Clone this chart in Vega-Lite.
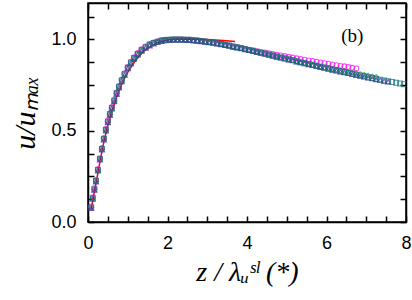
{
  "$schema": "https://vega.github.io/schema/vega-lite/v6.json",
  "width": 318,
  "height": 219,
  "autosize": {"type": "none"},
  "padding": {"left": 88, "top": 3, "right": 6, "bottom": 78},
  "config": {
    "view": {"stroke": "black", "strokeWidth": 1.5},
    "axis": {
      "domainColor": "black", "domainWidth": 1.5, "tickColor": "black", "tickWidth": 1.5,
      "grid": false, "labelFont": "Liberation Sans", "labelFontSize": 18, "labelColor": "black",
      "titleFont": "Liberation Serif", "titleFontStyle": "italic", "titleFontWeight": "normal", "titleFontSize": 28, "titleColor": "black"
    }
  },
  "data": {"values": [
    {"s":"r","x":0.08,"y":0.07},{"s":"r","x":0.2,"y":0.21},{"s":"r","x":0.3,"y":0.33},{"s":"r","x":0.4,"y":0.44},{"s":"r","x":0.5,"y":0.53},{"s":"r","x":0.6,"y":0.605},{"s":"r","x":0.7,"y":0.672},{"s":"r","x":0.8,"y":0.73},{"s":"r","x":0.9,"y":0.78},{"s":"r","x":1.0,"y":0.82},{"s":"r","x":1.2,"y":0.887},{"s":"r","x":1.4,"y":0.935},{"s":"r","x":1.6,"y":0.966},{"s":"r","x":1.8,"y":0.987},{"s":"r","x":2.0,"y":0.997},{"s":"r","x":2.2,"y":1.002},{"s":"r","x":2.5,"y":1.003},{"s":"r","x":2.8,"y":1.001},{"s":"r","x":3.1,"y":0.998},{"s":"r","x":3.4,"y":0.994},{"s":"r","x":3.7,"y":0.989},

    {"s":"m","x":0.08,"y":0.085},{"s":"m","x":0.12,"y":0.135},{"s":"m","x":0.16,"y":0.185},{"s":"m","x":0.2,"y":0.23},{"s":"m","x":0.25,"y":0.29},{"s":"m","x":0.3,"y":0.35},{"s":"m","x":0.35,"y":0.405},{"s":"m","x":0.4,"y":0.46},{"s":"m","x":0.45,"y":0.51},{"s":"m","x":0.5,"y":0.555},{"s":"m","x":0.55,"y":0.595},{"s":"m","x":0.6,"y":0.63},{"s":"m","x":0.66,"y":0.67},{"s":"m","x":0.72,"y":0.71},{"s":"m","x":0.78,"y":0.745},{"s":"m","x":0.85,"y":0.78},{"s":"m","x":0.92,"y":0.815},{"s":"m","x":1.0,"y":0.85},{"s":"m","x":1.08,"y":0.878},{"s":"m","x":1.16,"y":0.903},{"s":"m","x":1.25,"y":0.926},{"s":"m","x":1.35,"y":0.947},{"s":"m","x":1.45,"y":0.962},{"s":"m","x":1.55,"y":0.975},{"s":"m","x":1.65,"y":0.984},{"s":"m","x":1.75,"y":0.991},{"s":"m","x":1.85,"y":0.996},{"s":"m","x":1.95,"y":0.999},{"s":"m","x":2.05,"y":0.999},{"s":"m","x":2.15,"y":1.0},{"s":"m","x":2.25,"y":1.0},{"s":"m","x":2.35,"y":1.0},{"s":"m","x":2.45,"y":0.999},{"s":"m","x":2.55,"y":0.998},{"s":"m","x":2.65,"y":0.996},{"s":"m","x":2.75,"y":0.994},
    {"s":"m","x":2.85,"y":0.992},{"s":"m","x":2.95,"y":0.989},{"s":"m","x":3.05,"y":0.986},{"s":"m","x":3.15,"y":0.983},{"s":"m","x":3.25,"y":0.979},{"s":"m","x":3.35,"y":0.975},{"s":"m","x":3.45,"y":0.971},{"s":"m","x":3.55,"y":0.967},{"s":"m","x":3.65,"y":0.962},{"s":"m","x":3.75,"y":0.958},{"s":"m","x":3.85,"y":0.953},{"s":"m","x":3.95,"y":0.948},{"s":"m","x":4.05,"y":0.944},{"s":"m","x":4.15,"y":0.94},{"s":"m","x":4.25,"y":0.936},{"s":"m","x":4.35,"y":0.932},{"s":"m","x":4.45,"y":0.929},{"s":"m","x":4.55,"y":0.925},{"s":"m","x":4.65,"y":0.92},{"s":"m","x":4.75,"y":0.916},{"s":"m","x":4.85,"y":0.913},{"s":"m","x":4.95,"y":0.909},{"s":"m","x":5.05,"y":0.905},{"s":"m","x":5.15,"y":0.901},{"s":"m","x":5.25,"y":0.897},{"s":"m","x":5.35,"y":0.893},{"s":"m","x":5.45,"y":0.889},{"s":"m","x":5.55,"y":0.885},{"s":"m","x":5.65,"y":0.882},{"s":"m","x":5.75,"y":0.878},{"s":"m","x":5.85,"y":0.874},{"s":"m","x":5.95,"y":0.87},{"s":"m","x":6.05,"y":0.867},{"s":"m","x":6.15,"y":0.863},{"s":"m","x":6.25,"y":0.859},{"s":"m","x":6.35,"y":0.855},{"s":"m","x":6.45,"y":0.853},{"s":"m","x":6.55,"y":0.849},{"s":"m","x":6.65,"y":0.845},{"s":"m","x":6.75,"y":0.841},

    {"s":"g","x":0.08,"y":0.08},{"s":"g","x":0.12,"y":0.13},{"s":"g","x":0.16,"y":0.18},{"s":"g","x":0.2,"y":0.225},{"s":"g","x":0.25,"y":0.285},{"s":"g","x":0.3,"y":0.345},{"s":"g","x":0.35,"y":0.4},{"s":"g","x":0.4,"y":0.455},{"s":"g","x":0.45,"y":0.505},{"s":"g","x":0.5,"y":0.55},{"s":"g","x":0.55,"y":0.59},{"s":"g","x":0.6,"y":0.625},{"s":"g","x":0.66,"y":0.665},{"s":"g","x":0.72,"y":0.705},{"s":"g","x":0.78,"y":0.74},{"s":"g","x":0.85,"y":0.775},{"s":"g","x":0.92,"y":0.81},{"s":"g","x":1.0,"y":0.845},{"s":"g","x":1.08,"y":0.873},{"s":"g","x":1.16,"y":0.898},{"s":"g","x":1.25,"y":0.921},{"s":"g","x":1.35,"y":0.942},{"s":"g","x":1.45,"y":0.958},{"s":"g","x":1.55,"y":0.971},{"s":"g","x":1.65,"y":0.981},{"s":"g","x":1.75,"y":0.988},{"s":"g","x":1.85,"y":0.994},{"s":"g","x":1.95,"y":0.997},{"s":"g","x":2.05,"y":0.999},{"s":"g","x":2.15,"y":1.0},{"s":"g","x":2.25,"y":1.0},{"s":"g","x":2.35,"y":1.0},{"s":"g","x":2.45,"y":0.999},{"s":"g","x":2.55,"y":0.998},{"s":"g","x":2.65,"y":0.996},{"s":"g","x":2.75,"y":0.994},
    {"s":"g","x":2.85,"y":0.992},{"s":"g","x":2.95,"y":0.989},{"s":"g","x":3.05,"y":0.986},{"s":"g","x":3.15,"y":0.983},{"s":"g","x":3.25,"y":0.979},{"s":"g","x":3.35,"y":0.975},{"s":"g","x":3.45,"y":0.971},{"s":"g","x":3.55,"y":0.967},{"s":"g","x":3.65,"y":0.962},{"s":"g","x":3.75,"y":0.958},{"s":"g","x":3.85,"y":0.953},{"s":"g","x":3.95,"y":0.948},{"s":"g","x":4.05,"y":0.943},{"s":"g","x":4.15,"y":0.938},{"s":"g","x":4.25,"y":0.933},{"s":"g","x":4.35,"y":0.928},{"s":"g","x":4.45,"y":0.923},{"s":"g","x":4.55,"y":0.918},{"s":"g","x":4.65,"y":0.912},{"s":"g","x":4.75,"y":0.907},{"s":"g","x":4.85,"y":0.902},{"s":"g","x":4.95,"y":0.897},{"s":"g","x":5.05,"y":0.892},{"s":"g","x":5.15,"y":0.887},{"s":"g","x":5.25,"y":0.881},{"s":"g","x":5.35,"y":0.876},{"s":"g","x":5.45,"y":0.871},{"s":"g","x":5.55,"y":0.866},{"s":"g","x":5.65,"y":0.861},{"s":"g","x":5.75,"y":0.856},{"s":"g","x":5.85,"y":0.851},{"s":"g","x":5.95,"y":0.846},{"s":"g","x":6.05,"y":0.844},{"s":"g","x":6.15,"y":0.839},{"s":"g","x":6.25,"y":0.835},{"s":"g","x":6.35,"y":0.83},{"s":"g","x":6.45,"y":0.827},{"s":"g","x":6.55,"y":0.822},{"s":"g","x":6.65,"y":0.818},{"s":"g","x":6.75,"y":0.814},{"s":"g","x":6.85,"y":0.81},{"s":"g","x":6.95,"y":0.806},{"s":"g","x":7.05,"y":0.802},{"s":"g","x":7.15,"y":0.798},{"s":"g","x":7.25,"y":0.794},

    {"s":"p","x":0.08,"y":0.075},{"s":"p","x":0.12,"y":0.125},{"s":"p","x":0.16,"y":0.175},{"s":"p","x":0.2,"y":0.22},{"s":"p","x":0.25,"y":0.28},{"s":"p","x":0.3,"y":0.34},{"s":"p","x":0.35,"y":0.395},{"s":"p","x":0.4,"y":0.45},{"s":"p","x":0.45,"y":0.5},{"s":"p","x":0.5,"y":0.545},{"s":"p","x":0.55,"y":0.585},{"s":"p","x":0.6,"y":0.62},{"s":"p","x":0.66,"y":0.66},{"s":"p","x":0.72,"y":0.7},{"s":"p","x":0.78,"y":0.735},{"s":"p","x":0.85,"y":0.77},{"s":"p","x":0.92,"y":0.805},{"s":"p","x":1.0,"y":0.84},{"s":"p","x":1.08,"y":0.868},{"s":"p","x":1.16,"y":0.893},{"s":"p","x":1.25,"y":0.916},{"s":"p","x":1.35,"y":0.937},{"s":"p","x":1.45,"y":0.953},{"s":"p","x":1.55,"y":0.966},{"s":"p","x":1.65,"y":0.976},{"s":"p","x":1.75,"y":0.984},{"s":"p","x":1.85,"y":0.99},{"s":"p","x":1.95,"y":0.994},{"s":"p","x":2.05,"y":0.997},{"s":"p","x":2.15,"y":0.998},{"s":"p","x":2.25,"y":0.998},{"s":"p","x":2.35,"y":0.998},{"s":"p","x":2.45,"y":0.997},{"s":"p","x":2.55,"y":0.996},{"s":"p","x":2.65,"y":0.994},{"s":"p","x":2.75,"y":0.992},
    {"s":"p","x":2.85,"y":0.989},{"s":"p","x":2.95,"y":0.986},{"s":"p","x":3.05,"y":0.983},{"s":"p","x":3.15,"y":0.98},{"s":"p","x":3.25,"y":0.976},{"s":"p","x":3.35,"y":0.972},{"s":"p","x":3.45,"y":0.968},{"s":"p","x":3.55,"y":0.964},{"s":"p","x":3.65,"y":0.959},{"s":"p","x":3.75,"y":0.955},{"s":"p","x":3.85,"y":0.95},{"s":"p","x":3.95,"y":0.945},{"s":"p","x":4.05,"y":0.94},{"s":"p","x":4.15,"y":0.935},{"s":"p","x":4.25,"y":0.93},{"s":"p","x":4.35,"y":0.925},{"s":"p","x":4.45,"y":0.92},{"s":"p","x":4.55,"y":0.915},{"s":"p","x":4.65,"y":0.909},{"s":"p","x":4.75,"y":0.904},{"s":"p","x":4.85,"y":0.899},{"s":"p","x":4.95,"y":0.894},{"s":"p","x":5.05,"y":0.889},{"s":"p","x":5.15,"y":0.884},{"s":"p","x":5.25,"y":0.878},{"s":"p","x":5.35,"y":0.873},{"s":"p","x":5.45,"y":0.868},{"s":"p","x":5.55,"y":0.863},{"s":"p","x":5.65,"y":0.858},{"s":"p","x":5.75,"y":0.853},{"s":"p","x":5.85,"y":0.848},{"s":"p","x":5.95,"y":0.843},{"s":"p","x":6.05,"y":0.838},{"s":"p","x":6.15,"y":0.833},{"s":"p","x":6.25,"y":0.828},{"s":"p","x":6.35,"y":0.823},{"s":"p","x":6.45,"y":0.819},{"s":"p","x":6.55,"y":0.814},{"s":"p","x":6.65,"y":0.809},{"s":"p","x":6.75,"y":0.804},{"s":"p","x":6.85,"y":0.8},{"s":"p","x":6.95,"y":0.795},{"s":"p","x":7.05,"y":0.79},{"s":"p","x":7.15,"y":0.786},{"s":"p","x":7.25,"y":0.781},{"s":"p","x":7.35,"y":0.777},{"s":"p","x":7.45,"y":0.772},{"s":"p","x":7.55,"y":0.768},

    {"s":"t","x":0.08,"y":0.08},{"s":"t","x":0.12,"y":0.13},{"s":"t","x":0.16,"y":0.18},{"s":"t","x":0.2,"y":0.225},{"s":"t","x":0.25,"y":0.285},{"s":"t","x":0.3,"y":0.345},{"s":"t","x":0.35,"y":0.4},{"s":"t","x":0.4,"y":0.455},{"s":"t","x":0.45,"y":0.505},{"s":"t","x":0.5,"y":0.55},{"s":"t","x":0.55,"y":0.59},{"s":"t","x":0.6,"y":0.625},{"s":"t","x":0.66,"y":0.665},{"s":"t","x":0.72,"y":0.705},{"s":"t","x":0.78,"y":0.74},{"s":"t","x":0.85,"y":0.775},{"s":"t","x":0.92,"y":0.81},{"s":"t","x":1.0,"y":0.845},{"s":"t","x":1.08,"y":0.873},{"s":"t","x":1.16,"y":0.898},{"s":"t","x":1.25,"y":0.921},{"s":"t","x":1.35,"y":0.942},{"s":"t","x":1.45,"y":0.958},{"s":"t","x":1.55,"y":0.971},{"s":"t","x":1.65,"y":0.981},{"s":"t","x":1.75,"y":0.988},{"s":"t","x":1.85,"y":0.994},{"s":"t","x":1.95,"y":0.997},{"s":"t","x":2.05,"y":0.999},{"s":"t","x":2.15,"y":1.0},{"s":"t","x":2.25,"y":1.0},{"s":"t","x":2.35,"y":1.0},{"s":"t","x":2.45,"y":0.999},{"s":"t","x":2.55,"y":0.998},{"s":"t","x":2.65,"y":0.996},{"s":"t","x":2.75,"y":0.994},
    {"s":"t","x":2.85,"y":0.992},{"s":"t","x":2.95,"y":0.989},{"s":"t","x":3.05,"y":0.986},{"s":"t","x":3.15,"y":0.983},{"s":"t","x":3.25,"y":0.979},{"s":"t","x":3.35,"y":0.975},{"s":"t","x":3.45,"y":0.971},{"s":"t","x":3.55,"y":0.967},{"s":"t","x":3.65,"y":0.962},{"s":"t","x":3.75,"y":0.958},{"s":"t","x":3.85,"y":0.953},{"s":"t","x":3.95,"y":0.948},{"s":"t","x":4.05,"y":0.943},{"s":"t","x":4.15,"y":0.938},{"s":"t","x":4.25,"y":0.933},{"s":"t","x":4.35,"y":0.928},{"s":"t","x":4.45,"y":0.923},{"s":"t","x":4.55,"y":0.918},{"s":"t","x":4.65,"y":0.912},{"s":"t","x":4.75,"y":0.907},{"s":"t","x":4.85,"y":0.902},{"s":"t","x":4.95,"y":0.897},{"s":"t","x":5.05,"y":0.892},{"s":"t","x":5.15,"y":0.887},{"s":"t","x":5.25,"y":0.881},{"s":"t","x":5.35,"y":0.876},{"s":"t","x":5.45,"y":0.871},{"s":"t","x":5.55,"y":0.866},{"s":"t","x":5.65,"y":0.861},{"s":"t","x":5.75,"y":0.856},{"s":"t","x":5.85,"y":0.851},{"s":"t","x":5.95,"y":0.846},{"s":"t","x":6.05,"y":0.841},{"s":"t","x":6.15,"y":0.836},{"s":"t","x":6.25,"y":0.831},{"s":"t","x":6.35,"y":0.826},{"s":"t","x":6.45,"y":0.822},{"s":"t","x":6.55,"y":0.817},{"s":"t","x":6.65,"y":0.812},{"s":"t","x":6.75,"y":0.807},{"s":"t","x":6.85,"y":0.803},{"s":"t","x":6.95,"y":0.798},{"s":"t","x":7.05,"y":0.793},{"s":"t","x":7.15,"y":0.789},{"s":"t","x":7.25,"y":0.784},{"s":"t","x":7.35,"y":0.78},{"s":"t","x":7.45,"y":0.775},{"s":"t","x":7.55,"y":0.771},{"s":"t","x":7.65,"y":0.767},{"s":"t","x":7.75,"y":0.763},{"s":"t","x":7.85,"y":0.759},{"s":"t","x":7.95,"y":0.755}
  ]},
  "resolve": {"axis": {"x": "independent", "y": "independent"}},
  "layer": [
    {
      "transform": [{"filter": "datum.s === 'r'"}],
      "mark": {"type": "line", "color": "#ff0000", "strokeWidth": 1.5, "clip": true},
      "encoding": {
        "x": {"field": "x", "type": "quantitative", "scale": {"domain": [0, 8], "nice": false, "zero": false},
          "axis": {"orient": "bottom", "values": [0,0.5,1,1.5,2,2.5,3,3.5,4,4.5,5,5.5,6,6.5,7,7.5,8],
            "labelExpr": "datum.value % 2 === 0 ? format(datum.value, 'd') : ''", "labelFlush": false, "labelOverlap": false,
            "tickSize": -6, "labelPadding": 18, "title": "z / λᵤˢˡ (*)", "titlePadding": 6}},
        "y": {"field": "y", "type": "quantitative", "scale": {"domain": [0, 1.2], "nice": false, "zero": false},
          "axis": {"orient": "left", "values": [0,0.125,0.25,0.375,0.5,0.625,0.75,0.875,1,1.125],
            "labelExpr": "datum.value % 0.5 === 0 ? format(datum.value, '.1f') : ''", "labelFlush": false, "labelOverlap": false,
            "tickSize": -6, "labelPadding": 18, "title": "u/uₘₐₓ", "titlePadding": 10, "titleFontSize": 30}}
      }
    },
    {
      "transform": [{"filter": "datum.s !== 'r'"}],
      "mark": {"type": "point", "filled": false, "size": 24, "strokeWidth": 1.1, "clip": true},
      "encoding": {
        "x": {"field": "x", "type": "quantitative",
          "axis": {"orient": "top", "values": [0,0.5,1,1.5,2,2.5,3,3.5,4,4.5,5,5.5,6,6.5,7,7.5,8], "labels": false, "title": null, "tickSize": -6}},
        "y": {"field": "y", "type": "quantitative",
          "axis": {"orient": "right", "values": [0,0.125,0.25,0.375,0.5,0.625,0.75,0.875,1,1.125], "labels": false, "title": null, "tickSize": -6}},
        "color": {"field": "s", "type": "nominal", "legend": null,
          "scale": {"domain": ["m", "g", "p", "t"], "range": ["#ff00ff", "#1f8f2f", "#5a10b8", "#0b6f78"]}},
        "shape": {"field": "s", "type": "nominal", "legend": null,
          "scale": {"domain": ["m", "g", "p", "t"], "range": ["circle", "diamond", "triangle-up", "square"]}}
      }
    },
    {
      "data": {"values": [{}]},
      "mark": {"type": "text", "text": "(b)", "font": "Liberation Serif", "fontSize": 19, "fontWeight": "normal", "color": "black", "align": "center", "baseline": "middle"},
      "encoding": {
        "x": {"datum": 6.65, "type": "quantitative", "axis": null},
        "y": {"datum": 1.02, "type": "quantitative", "axis": null}
      }
    }
  ]
}
